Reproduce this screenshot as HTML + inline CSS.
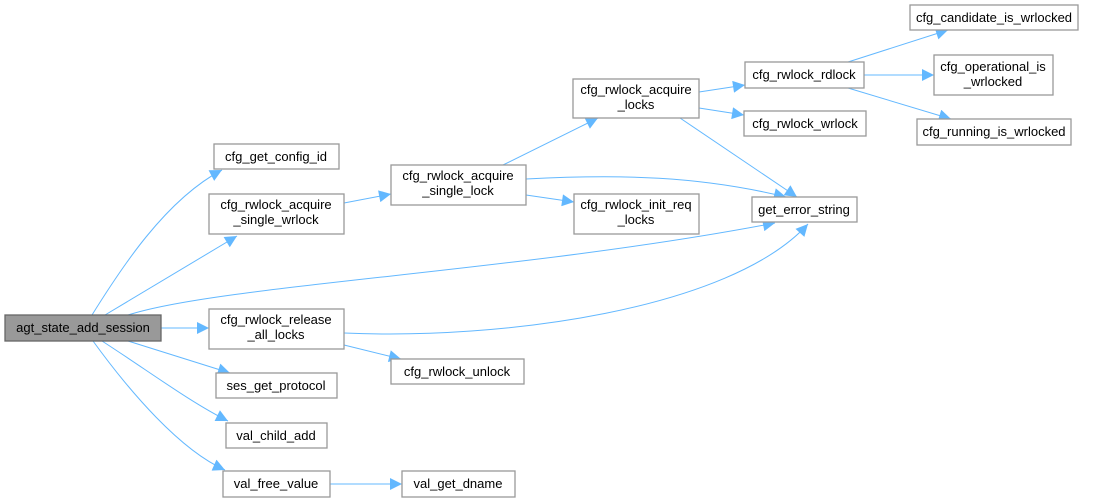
<!DOCTYPE html>
<html><head><meta charset="utf-8"><style>
body{margin:0;background:#fff;}
svg{display:block;}
text{font-family:"Liberation Sans",Arial,sans-serif;font-size:13px;fill:#000;}
.b{fill:#fff;stroke:#999;stroke-width:1.3;}
.e{fill:none;stroke:#63b8ff;stroke-width:1;}
</style></head><body>
<svg width="1120" height="503" viewBox="0 0 1120 503" xmlns="http://www.w3.org/2000/svg">
<defs><marker id="a" viewBox="0 0 10 10" refX="10" refY="5" markerWidth="13" markerHeight="12" markerUnits="userSpaceOnUse" orient="auto"><path d="M0,0 L10,5 L0,10 z" fill="#63b8ff"/></marker></defs>
<g marker-end="url(#a)">
<path class="e" d="M92,315 C120,270 165,200 222,170"/>
<path class="e" d="M105,315 L237,236"/>
<path class="e" d="M128,315 C220,285 520,272 775,223"/>
<path class="e" d="M161,328 L209,328"/>
<path class="e" d="M128,341 L230,373"/>
<path class="e" d="M102,341 C150,372 190,402 228,421"/>
<path class="e" d="M93,341 C130,392 180,450 225,470"/>
<path class="e" d="M344,203 L391,194"/>
<path class="e" d="M344,333 C500,340 730,310 808,224"/>
<path class="e" d="M344,345 L401,359"/>
<path class="e" d="M503,165 L598,118"/>
<path class="e" d="M526,179 C620,174 700,176 786,197"/>
<path class="e" d="M526,195 L574,202"/>
<path class="e" d="M699,92 L745,85"/>
<path class="e" d="M699,108 L744,115"/>
<path class="e" d="M680,118 L797,197"/>
<path class="e" d="M848,62 L948,30"/>
<path class="e" d="M864,75 L934,75"/>
<path class="e" d="M848,88 L951,119"/>
<path class="e" d="M330,484 L402,484"/>
</g>
<rect x="5" y="315" width="156" height="26" style="fill:#999;stroke:#666;stroke-width:1.3"/>
<text x="83" y="332" text-anchor="middle">agt_state_add_session</text>
<rect class="b" x="214" y="144" width="125" height="25"/><text x="276" y="161" text-anchor="middle">cfg_get_config_id</text>
<rect class="b" x="209" y="194" width="135" height="40"/><text x="276" y="209" text-anchor="middle">cfg_rwlock_acquire</text><text x="276" y="224" text-anchor="middle">_single_wrlock</text>
<rect class="b" x="209" y="309" width="135" height="40"/><text x="276" y="324" text-anchor="middle">cfg_rwlock_release</text><text x="276" y="339" text-anchor="middle">_all_locks</text>
<rect class="b" x="216" y="373" width="121" height="25"/><text x="276" y="390" text-anchor="middle">ses_get_protocol</text>
<rect class="b" x="226" y="423" width="101" height="25"/><text x="276" y="440" text-anchor="middle">val_child_add</text>
<rect class="b" x="223" y="471" width="107" height="26"/><text x="276" y="488" text-anchor="middle">val_free_value</text>
<rect class="b" x="391" y="165" width="135" height="40"/><text x="458" y="180" text-anchor="middle">cfg_rwlock_acquire</text><text x="458" y="195" text-anchor="middle">_single_lock</text>
<rect class="b" x="574" y="194" width="125" height="40"/><text x="636" y="209" text-anchor="middle">cfg_rwlock_init_req</text><text x="636" y="224" text-anchor="middle">_locks</text>
<rect class="b" x="391" y="359" width="133" height="25"/><text x="457" y="376" text-anchor="middle">cfg_rwlock_unlock</text>
<rect class="b" x="402" y="471" width="113" height="26"/><text x="458" y="488" text-anchor="middle">val_get_dname</text>
<rect class="b" x="573" y="79" width="126" height="39"/><text x="636" y="94" text-anchor="middle">cfg_rwlock_acquire</text><text x="636" y="109" text-anchor="middle">_locks</text>
<rect class="b" x="745" y="62" width="119" height="26"/><text x="804" y="79" text-anchor="middle">cfg_rwlock_rdlock</text>
<rect class="b" x="744" y="111" width="122" height="25"/><text x="805" y="128" text-anchor="middle">cfg_rwlock_wrlock</text>
<rect class="b" x="752" y="197" width="105" height="25"/><text x="804" y="214" text-anchor="middle">get_error_string</text>
<rect class="b" x="910" y="5" width="168" height="25"/><text x="994" y="22" text-anchor="middle">cfg_candidate_is_wrlocked</text>
<rect class="b" x="934" y="55" width="119" height="40"/><text x="993" y="71" text-anchor="middle">cfg_operational_is</text><text x="993" y="86" text-anchor="middle">_wrlocked</text>
<rect class="b" x="917" y="119" width="154" height="26"/><text x="994" y="136" text-anchor="middle">cfg_running_is_wrlocked</text>
</svg>
</body></html>
